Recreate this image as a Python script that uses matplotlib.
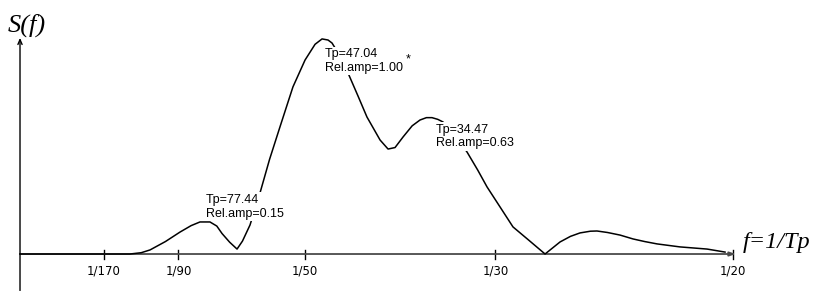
import numpy as np
import matplotlib
matplotlib.use("Agg")
import matplotlib.pyplot as plt

# spectrum: frequency f = 1/Tp and relative amplitude
freq = [0.0, 0.00736, 0.00771, 0.00850, 0.00912, 0.01020, 0.01122, 0.01200,
        0.01262, 0.01332, 0.01380, 0.01417, 0.01470, 0.01522, 0.01560,
        0.01613, 0.01683, 0.01750, 0.01823, 0.01914, 0.01999, 0.02069,
        0.02118, 0.02160, 0.02188, 0.02240, 0.02300, 0.02370, 0.02433,
        0.02525, 0.02581, 0.02630, 0.02686, 0.02750, 0.02805, 0.02850,
        0.02889, 0.02930, 0.02966, 0.03050, 0.03135, 0.03210, 0.03275,
        0.03370, 0.03457, 0.03570, 0.03682, 0.03787, 0.03860, 0.03927,
        0.04000, 0.04046, 0.04120, 0.04208, 0.04299, 0.04380, 0.04467,
        0.04628, 0.04818, 0.04944]
amp = [0.0, 0.0, 0.0, 0.006, 0.019, 0.058, 0.102, 0.132,
       0.149, 0.149, 0.130, 0.095, 0.055, 0.023, 0.060,
       0.135, 0.284, 0.440, 0.591, 0.777, 0.902, 0.975,
       1.000, 0.995, 0.981, 0.925, 0.842, 0.735, 0.637,
       0.530, 0.488, 0.495, 0.544, 0.596, 0.623, 0.634,
       0.634, 0.626, 0.614, 0.550, 0.474, 0.390, 0.312,
       0.215, 0.126, 0.063, 0.0, 0.056, 0.082, 0.098,
       0.106, 0.107, 0.100, 0.088, 0.070, 0.058, 0.047,
       0.033, 0.023, 0.009]

tick_periods = [170, 90, 50, 30, 20]
tick_labels = ["1/170", "1/90", "1/50", "1/30", "1/20"]

peak_tp = [77.44, 47.04, 34.47]
peak_amp = [0.15, 1.00, 0.63]
peak_offsets = [(2, 28), (2, -9), (2, -5)]  # label top-left, pixels from peak
peak_star = [False, True, False]

fig = plt.figure(figsize=(8.18, 2.91), dpi=100)
ax = fig.add_axes([0, 0, 1, 1])
ax.set_xlim(-0.001403, 0.05596)
ax.set_ylim(-0.172, 1.181)
ax.axis("off")

axis_col = "#4a4a4a"
f_end = 0.0502
ax.annotate("", xy=(f_end, 0), xytext=(0, 0),
            arrowprops=dict(arrowstyle="-|>,head_length=0.35,head_width=0.12",
                            color=axis_col, lw=1.3, shrinkA=0, shrinkB=0))
ax.annotate("", xy=(0, 1.005), xytext=(0, -0.17),
            arrowprops=dict(arrowstyle="->,head_length=0.35,head_width=0.15",
                            color="black", lw=1.0, shrinkA=0, shrinkB=0))

for tp, lab in zip(tick_periods, tick_labels):
    f = 1.0 / tp
    ax.plot([f, f], [-0.023, 0.019], color="black", lw=1.0)
    ax.text(f, -0.077, lab, ha="center", va="center", fontsize=8.5,
            family=["Liberation Sans Narrow", "DejaVu Sans"])

ax.plot(freq, amp, color="black", lw=1.1, zorder=3)

for tp, a, off, star in zip(peak_tp, peak_amp, peak_offsets, peak_star):
    txt = f"Tp={tp:.2f}\nRel.amp={a:.2f}"
    ax.annotate(txt, xy=(1.0 / tp, a), xytext=off, textcoords="offset pixels",
                ha="left", va="top", fontsize=9, linespacing=1.2,
                family=["Liberation Sans", "DejaVu Sans"], zorder=4,
                bbox=dict(boxstyle="square,pad=0.1", fc="white", ec="none"))
    if star:
        ax.annotate("*", xy=(1.0 / tp, a), xytext=(off[0] + 81, off[1] - 6),
                    textcoords="offset pixels", ha="left", va="top", fontsize=9,
                    family=["Liberation Sans", "DejaVu Sans"], zorder=4)

ax.text(0.009, 0.955, "S(f)", transform=fig.transFigure, ha="left", va="top",
        fontsize=19, style="italic", family=["Liberation Serif", "DejaVu Serif"])
ax.text(0.05068, 0.028, "f=1/Tp", ha="left", va="baseline",
        fontsize=17.5, style="italic", family=["Liberation Serif", "DejaVu Serif"])

fig.savefig("out.png", dpi=100)
